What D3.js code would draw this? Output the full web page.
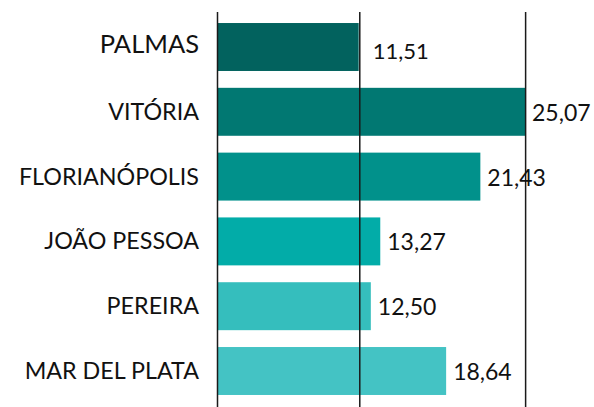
<!DOCTYPE html>
<html><head><meta charset="utf-8">
<script src="https://cdn.jsdelivr.net/npm/d3@7/dist/d3.min.js"></script>
<style>body{margin:0;background:#fff}svg{display:block}</style>
</head><body>
<script>
const categories = ["PALMAS","VITÓRIA","FLORIANÓPOLIS","JOÃO PESSOA","PEREIRA","MAR DEL PLATA"];
const values = [11.51, 25.07, 21.43, 13.27, 12.50, 18.64];
const valueLabels = ["11,51","25,07","21,43","13,27","12,50","18,64"];
const colors = ["#02625e","#017872","#01918b","#02aca8","#35bebd","#44c3c4"];
const gridValues = [0, 11.6, 25.12];

const W = 594, H = 407;
const svg = d3.select("body").append("svg").attr("width", W).attr("height", H);
const font = "Lato, 'Open Sans', sans-serif";

const x = d3.scaleLinear().domain([0, 25.07]).range([217.5, 525]);
const y = d3.scaleBand().domain(categories).range([14.6, 403.4]).paddingInner(0.26).paddingOuter(0.13);

svg.selectAll("rect.bar").data(categories).join("rect")
  .attr("class","bar")
  .attr("x", x(0))
  .attr("y", d => y(d))
  .attr("width", (d,i) => x(values[i]) - x(0))
  .attr("height", y.bandwidth())
  .attr("fill", (d,i) => colors[i]);

svg.selectAll("line.grid").data(gridValues).join("line")
  .attr("class","grid")
  .attr("x1", d => x(d)).attr("x2", d => x(d))
  .attr("y1", 12).attr("y2", H)
  .attr("stroke", "#1a1a1a").attr("stroke-width", 1.5);

svg.selectAll("text.cat").data(categories).join("text")
  .attr("class","cat")
  .attr("x", 199)
  .attr("y", (d,i) => y(d) + y.bandwidth()/2 + (i===0 ? -4 : -1))
  .attr("text-anchor","end")
  .attr("dominant-baseline","central")
  .attr("font-family", font)
  .attr("font-size", (d,i) => i===0 ? 25.5 : 23.3)
  .attr("fill","#111")
  .text(d => d);

svg.selectAll("text.val").data(categories).join("text")
  .attr("class","val")
  .attr("x", (d,i) => x(values[i]) + (i===0 ? 14 : 7))
  .attr("y", (d,i) => y(d) + y.bandwidth()/2 + (i===0 ? 3 : 0))
  .attr("dominant-baseline","central")
  .attr("font-family", font)
  .attr("font-size", (d,i) => i===0 ? 22 : 23)
  .attr("fill","#111")
  .text((d,i) => valueLabels[i]);
</script>
</body></html>
